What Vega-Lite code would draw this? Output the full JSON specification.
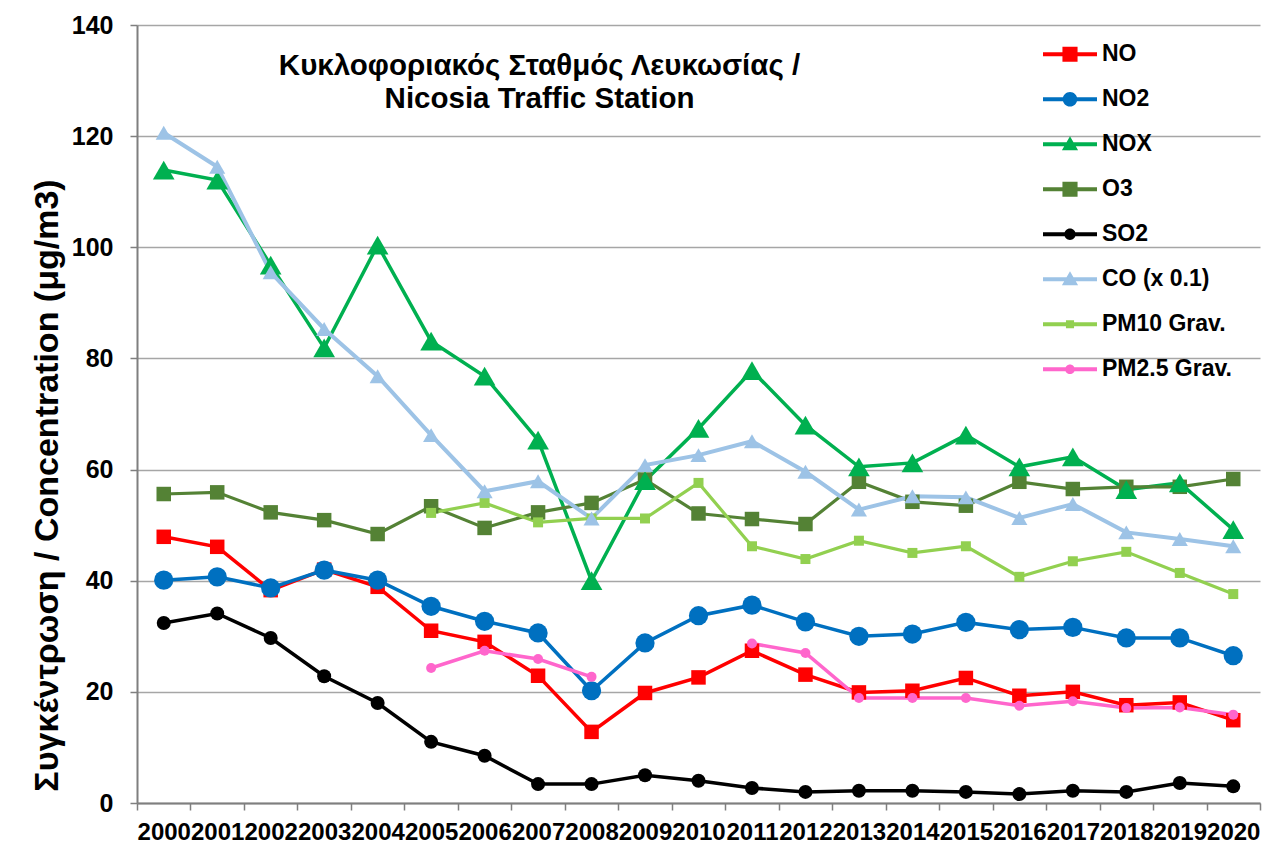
{
  "$schema": "https://vega.github.io/schema/vega-lite/v6.json",
  "width": 1123,
  "height": 778,
  "autosize": {"type": "none"},
  "padding": {"left": 137, "top": 25, "right": 25, "bottom": 42},
  "background": "white",
  "title": {
    "text": ["Κυκλοφοριακός Σταθμός Λευκωσίας /", "Nicosia Traffic Station"],
    "anchor": "middle", "orient": "top", "offset": 0, "dx": -159, "dy": 101,
    "font": "Liberation Sans", "fontSize": 29.5, "fontWeight": "bold",
    "color": "#000000", "lineHeight": 33
  },
  "datasets": {
    "air": [
      {"year":"2000","series":"NO","value":47.9},{"year":"2001","series":"NO","value":46.1},{"year":"2002","series":"NO","value":38.3},{"year":"2003","series":"NO","value":42.0},{"year":"2004","series":"NO","value":38.9},{"year":"2005","series":"NO","value":31.0},{"year":"2006","series":"NO","value":29.0},{"year":"2007","series":"NO","value":22.9},{"year":"2008","series":"NO","value":12.8},{"year":"2009","series":"NO","value":19.8},{"year":"2010","series":"NO","value":22.6},{"year":"2011","series":"NO","value":27.4},{"year":"2012","series":"NO","value":23.1},{"year":"2013","series":"NO","value":19.9},{"year":"2014","series":"NO","value":20.2},{"year":"2015","series":"NO","value":22.5},{"year":"2016","series":"NO","value":19.3},{"year":"2017","series":"NO","value":20.0},{"year":"2018","series":"NO","value":17.6},{"year":"2019","series":"NO","value":18.1},{"year":"2020","series":"NO","value":14.9},
      {"year":"2000","series":"NO2","value":40.1},{"year":"2001","series":"NO2","value":40.7},{"year":"2002","series":"NO2","value":38.7},{"year":"2003","series":"NO2","value":41.9},{"year":"2004","series":"NO2","value":40.1},{"year":"2005","series":"NO2","value":35.4},{"year":"2006","series":"NO2","value":32.7},{"year":"2007","series":"NO2","value":30.6},{"year":"2008","series":"NO2","value":20.2},{"year":"2009","series":"NO2","value":28.8},{"year":"2010","series":"NO2","value":33.7},{"year":"2011","series":"NO2","value":35.6},{"year":"2012","series":"NO2","value":32.6},{"year":"2013","series":"NO2","value":30.0},{"year":"2014","series":"NO2","value":30.4},{"year":"2015","series":"NO2","value":32.5},{"year":"2016","series":"NO2","value":31.2},{"year":"2017","series":"NO2","value":31.6},{"year":"2018","series":"NO2","value":29.7},{"year":"2019","series":"NO2","value":29.7},{"year":"2020","series":"NO2","value":26.5},
      {"year":"2000","series":"NOX","value":113.9},{"year":"2001","series":"NOX","value":112.1},{"year":"2002","series":"NOX","value":96.8},{"year":"2003","series":"NOX","value":81.9},{"year":"2004","series":"NOX","value":100.4},{"year":"2005","series":"NOX","value":83.1},{"year":"2006","series":"NOX","value":76.8},{"year":"2007","series":"NOX","value":65.3},{"year":"2008","series":"NOX","value":40.0},{"year":"2009","series":"NOX","value":58.0},{"year":"2010","series":"NOX","value":67.4},{"year":"2011","series":"NOX","value":77.8},{"year":"2012","series":"NOX","value":68.0},{"year":"2013","series":"NOX","value":60.5},{"year":"2014","series":"NOX","value":61.2},{"year":"2015","series":"NOX","value":66.2},{"year":"2016","series":"NOX","value":60.5},{"year":"2017","series":"NOX","value":62.3},{"year":"2018","series":"NOX","value":56.4},{"year":"2019","series":"NOX","value":57.6},{"year":"2020","series":"NOX","value":49.2},
      {"year":"2000","series":"O3","value":55.6},{"year":"2001","series":"O3","value":55.9},{"year":"2002","series":"O3","value":52.3},{"year":"2003","series":"O3","value":50.9},{"year":"2004","series":"O3","value":48.4},{"year":"2005","series":"O3","value":53.4},{"year":"2006","series":"O3","value":49.5},{"year":"2007","series":"O3","value":52.3},{"year":"2008","series":"O3","value":54.0},{"year":"2009","series":"O3","value":58.2},{"year":"2010","series":"O3","value":52.1},{"year":"2011","series":"O3","value":51.1},{"year":"2012","series":"O3","value":50.2},{"year":"2013","series":"O3","value":57.8},{"year":"2014","series":"O3","value":54.2},{"year":"2015","series":"O3","value":53.5},{"year":"2016","series":"O3","value":57.8},{"year":"2017","series":"O3","value":56.5},{"year":"2018","series":"O3","value":56.9},{"year":"2019","series":"O3","value":56.9},{"year":"2020","series":"O3","value":58.3},
      {"year":"2000","series":"SO2","value":32.4},{"year":"2001","series":"SO2","value":34.1},{"year":"2002","series":"SO2","value":29.7},{"year":"2003","series":"SO2","value":22.8},{"year":"2004","series":"SO2","value":18.0},{"year":"2005","series":"SO2","value":11.0},{"year":"2006","series":"SO2","value":8.5},{"year":"2007","series":"SO2","value":3.4},{"year":"2008","series":"SO2","value":3.4},{"year":"2009","series":"SO2","value":5.0},{"year":"2010","series":"SO2","value":4.0},{"year":"2011","series":"SO2","value":2.7},{"year":"2012","series":"SO2","value":2.0},{"year":"2013","series":"SO2","value":2.2},{"year":"2014","series":"SO2","value":2.2},{"year":"2015","series":"SO2","value":2.0},{"year":"2016","series":"SO2","value":1.6},{"year":"2017","series":"SO2","value":2.2},{"year":"2018","series":"SO2","value":2.0},{"year":"2019","series":"SO2","value":3.6},{"year":"2020","series":"SO2","value":3.0},
      {"year":"2000","series":"CO (x 0.1)","value":120.6},{"year":"2001","series":"CO (x 0.1)","value":114.5},{"year":"2002","series":"CO (x 0.1)","value":95.5},{"year":"2003","series":"CO (x 0.1)","value":85.3},{"year":"2004","series":"CO (x 0.1)","value":76.8},{"year":"2005","series":"CO (x 0.1)","value":66.2},{"year":"2006","series":"CO (x 0.1)","value":56.1},{"year":"2007","series":"CO (x 0.1)","value":57.9},{"year":"2008","series":"CO (x 0.1)","value":51.2},{"year":"2009","series":"CO (x 0.1)","value":60.8},{"year":"2010","series":"CO (x 0.1)","value":62.6},{"year":"2011","series":"CO (x 0.1)","value":65.1},{"year":"2012","series":"CO (x 0.1)","value":59.6},{"year":"2013","series":"CO (x 0.1)","value":52.8},{"year":"2014","series":"CO (x 0.1)","value":55.2},{"year":"2015","series":"CO (x 0.1)","value":55.0},{"year":"2016","series":"CO (x 0.1)","value":51.3},{"year":"2017","series":"CO (x 0.1)","value":53.8},{"year":"2018","series":"CO (x 0.1)","value":48.7},{"year":"2019","series":"CO (x 0.1)","value":47.5},{"year":"2020","series":"CO (x 0.1)","value":46.2},
      {"year":"2005","series":"PM10 Grav.","value":52.2},{"year":"2006","series":"PM10 Grav.","value":54.0},{"year":"2007","series":"PM10 Grav.","value":50.5},{"year":"2008","series":"PM10 Grav.","value":51.2},{"year":"2009","series":"PM10 Grav.","value":51.2},{"year":"2010","series":"PM10 Grav.","value":57.6},{"year":"2011","series":"PM10 Grav.","value":46.2},{"year":"2012","series":"PM10 Grav.","value":43.9},{"year":"2013","series":"PM10 Grav.","value":47.2},{"year":"2014","series":"PM10 Grav.","value":45.0},{"year":"2015","series":"PM10 Grav.","value":46.2},{"year":"2016","series":"PM10 Grav.","value":40.7},{"year":"2017","series":"PM10 Grav.","value":43.5},{"year":"2018","series":"PM10 Grav.","value":45.2},{"year":"2019","series":"PM10 Grav.","value":41.4},{"year":"2020","series":"PM10 Grav.","value":37.6},
      {"year":"2005","series":"PM2.5 Grav.","value":24.3},{"year":"2006","series":"PM2.5 Grav.","value":27.4},{"year":"2007","series":"PM2.5 Grav.","value":25.9},{"year":"2008","series":"PM2.5 Grav.","value":22.7},{"year":"2009","series":"PM2.5 Grav.","value":null},{"year":"2010","series":"PM2.5 Grav.","value":null},{"year":"2011","series":"PM2.5 Grav.","value":28.7},{"year":"2012","series":"PM2.5 Grav.","value":27.0},{"year":"2013","series":"PM2.5 Grav.","value":18.9},{"year":"2014","series":"PM2.5 Grav.","value":18.9},{"year":"2015","series":"PM2.5 Grav.","value":18.9},{"year":"2016","series":"PM2.5 Grav.","value":17.5},{"year":"2017","series":"PM2.5 Grav.","value":18.3},{"year":"2018","series":"PM2.5 Grav.","value":17.1},{"year":"2019","series":"PM2.5 Grav.","value":17.2},{"year":"2020","series":"PM2.5 Grav.","value":15.9}
    ]
  },
  "data": {"name": "air"},
  "encoding": {
    "x": {
      "field": "year", "type": "ordinal",
      "scale": {"type": "band", "paddingInner": 0, "paddingOuter": 0},
      "axis": {
        "title": null, "labelAngle": 0, "labelFont": "Liberation Sans", "labelFontSize": 24,
        "labelFontWeight": "bold", "labelColor": "#000000", "labelPadding": 10,
        "labelOverlap": false, "labelBound": false, "tickBand": "extent",
        "tickSize": 7, "tickColor": "#7f7f7f", "tickWidth": 1.5,
        "domainColor": "#7f7f7f", "domainWidth": 2, "grid": false
      }
    },
    "y": {
      "field": "value", "type": "quantitative",
      "scale": {"domain": [0, 140], "nice": false, "zero": true},
      "axis": {
        "values": [0, 20, 40, 60, 80, 100, 120, 140],
        "title": "Συγκέντρωση / Concentration (μg/m3)",
        "titleFont": "Liberation Sans", "titleFontSize": 34, "titleFontWeight": "bold",
        "titleColor": "#000000", "titleX": -90, "titleY": 460, "titleAngle": 270,
        "titleAlign": "center", "titleBaseline": "middle",
        "labelFont": "Liberation Sans", "labelFontSize": 25, "labelFontWeight": "bold",
        "labelColor": "#000000", "labelPadding": 17,
        "tickSize": 7, "tickColor": "#7f7f7f", "tickWidth": 1.5,
        "domainColor": "#7f7f7f", "domainWidth": 2,
        "grid": true, "gridColor": "#a6a6a6", "gridWidth": 1.5
      }
    }
  },
  "layer": [
    {
      "mark": {"type": "line", "invalid": "break-paths-filter-domains"},
      "encoding": {
        "stroke": {
          "field": "series", "type": "nominal", "legend": null,
          "scale": {
            "domain": ["CO (x 0.1)", "NO", "NO2", "NOX", "O3", "PM10 Grav.", "PM2.5 Grav.", "SO2"],
            "range": ["#9DC3E6", "#FF0000", "#0070C0", "#00B050", "#548235", "#92D050", "#FF66CC", "#000000"]
          }
        },
        "strokeWidth": {
          "field": "series", "type": "nominal", "legend": null,
          "scale": {
            "type": "ordinal",
            "domain": ["CO (x 0.1)", "NO", "NO2", "NOX", "O3", "PM10 Grav.", "PM2.5 Grav.", "SO2"],
            "range": [4, 3.5, 3.5, 3.5, 3.2, 3.2, 3.5, 3.5]
          }
        }
      }
    },
    {
      "transform": [{"filter": {"field": "series", "oneOf": ["NO", "O3", "PM10 Grav."]}}],
      "mark": {"type": "point", "shape": "square", "filled": true, "opacity": 1, "strokeWidth": 0},
      "encoding": {
        "fill": {
          "field": "series", "type": "nominal", "legend": null,
          "scale": {
            "domain": ["CO (x 0.1)", "NO", "NO2", "NOX", "O3", "PM10 Grav.", "PM2.5 Grav.", "SO2"],
            "range": ["#9DC3E6", "#FF0000", "#0070C0", "#00B050", "#548235", "#92D050", "#FF66CC", "#000000"]
          }
        },
        "size": {
          "field": "series", "type": "nominal", "legend": null,
          "scale": {
            "type": "ordinal",
            "domain": ["CO (x 0.1)", "NO", "NO2", "NOX", "O3", "PM10 Grav.", "PM2.5 Grav.", "SO2"],
            "range": [260, 210, 370, 470, 210, 100, 100, 196]
          }
        }
      }
    },
    {
      "transform": [{"filter": {"field": "series", "oneOf": ["NO2", "SO2", "PM2.5 Grav."]}}],
      "mark": {"type": "point", "shape": "circle", "filled": true, "opacity": 1, "strokeWidth": 0},
      "encoding": {
        "fill": {
          "field": "series", "type": "nominal", "legend": null,
          "scale": {
            "domain": ["CO (x 0.1)", "NO", "NO2", "NOX", "O3", "PM10 Grav.", "PM2.5 Grav.", "SO2"],
            "range": ["#9DC3E6", "#FF0000", "#0070C0", "#00B050", "#548235", "#92D050", "#FF66CC", "#000000"]
          }
        },
        "size": {
          "field": "series", "type": "nominal", "legend": null,
          "scale": {
            "type": "ordinal",
            "domain": ["CO (x 0.1)", "NO", "NO2", "NOX", "O3", "PM10 Grav.", "PM2.5 Grav.", "SO2"],
            "range": [260, 210, 370, 470, 210, 100, 100, 196]
          }
        }
      }
    },
    {
      "transform": [{"filter": {"field": "series", "oneOf": ["NOX", "CO (x 0.1)"]}}],
      "mark": {"type": "point", "shape": "triangle-up", "filled": true, "opacity": 1, "strokeWidth": 0},
      "encoding": {
        "fill": {
          "field": "series", "type": "nominal", "legend": null,
          "scale": {
            "domain": ["CO (x 0.1)", "NO", "NO2", "NOX", "O3", "PM10 Grav.", "PM2.5 Grav.", "SO2"],
            "range": ["#9DC3E6", "#FF0000", "#0070C0", "#00B050", "#548235", "#92D050", "#FF66CC", "#000000"]
          }
        },
        "size": {
          "field": "series", "type": "nominal", "legend": null,
          "scale": {
            "type": "ordinal",
            "domain": ["CO (x 0.1)", "NO", "NO2", "NOX", "O3", "PM10 Grav.", "PM2.5 Grav.", "SO2"],
            "range": [260, 210, 370, 470, 210, 100, 100, 196]
          }
        }
      }
    },
    {
      "mark": {"type": "point", "filled": true, "opacity": 0, "strokeWidth": 0},
      "encoding": {
        "color": {
          "field": "series", "type": "nominal",
          "scale": {
            "domain": ["NO", "NO2", "NOX", "O3", "SO2", "CO (x 0.1)", "PM10 Grav.", "PM2.5 Grav."],
            "range": ["#FF0000", "#0070C0", "#00B050", "#548235", "#000000", "#9DC3E6", "#92D050", "#FF66CC"]
          },
          "legend": {
            "title": null, "orient": "none", "legendX": 906, "legendY": 7, "padding": 0,
            "symbolSize": 2916, "symbolStrokeWidth": 0, "symbolOpacity": 1,
            "clipHeight": 44.5, "rowPadding": 0, "labelOffset": 5,
            "labelFont": "Liberation Sans", "labelFontSize": 23, "labelFontWeight": "bold",
            "labelColor": "#000000", "labelLimit": 300
          }
        },
        "shape": {
          "field": "series", "type": "nominal",
          "scale": {
            "domain": ["NO", "NO2", "NOX", "O3", "SO2", "CO (x 0.1)", "PM10 Grav.", "PM2.5 Grav."],
            "range": [
              "M-1,-0.074H1V0.074H-1ZM-0.28,-0.28H0.28V0.28H-0.28Z",
              "M-1,-0.074H1V0.074H-1ZM-0.27,0A0.27,0.27,0,1,1,0.27,0A0.27,0.27,0,1,1,-0.27,0Z",
              "M-1,-0.074H1V0.074H-1ZM0,-0.3L0.3,0.22L-0.3,0.22Z",
              "M-1,-0.074H1V0.074H-1ZM-0.28,-0.28H0.28V0.28H-0.28Z",
              "M-1,-0.074H1V0.074H-1ZM-0.21,0A0.21,0.21,0,1,1,0.21,0A0.21,0.21,0,1,1,-0.21,0Z",
              "M-1,-0.074H1V0.074H-1ZM0,-0.3L0.3,0.22L-0.3,0.22Z",
              "M-1,-0.074H1V0.074H-1ZM-0.15,-0.15H0.15V0.15H-0.15Z",
              "M-1,-0.074H1V0.074H-1ZM-0.18,0A0.18,0.18,0,1,1,0.18,0A0.18,0.18,0,1,1,-0.18,0Z"
            ]
          },
          "legend": {
            "title": null, "orient": "none", "legendX": 906, "legendY": 7, "padding": 0,
            "symbolSize": 2916, "symbolStrokeWidth": 0, "symbolOpacity": 1,
            "clipHeight": 44.5, "rowPadding": 0, "labelOffset": 5,
            "labelFont": "Liberation Sans", "labelFontSize": 23, "labelFontWeight": "bold",
            "labelColor": "#000000", "labelLimit": 300
          }
        }
      }
    }
  ],
  "config": {"view": {"stroke": null}, "font": "Liberation Sans"}
}
